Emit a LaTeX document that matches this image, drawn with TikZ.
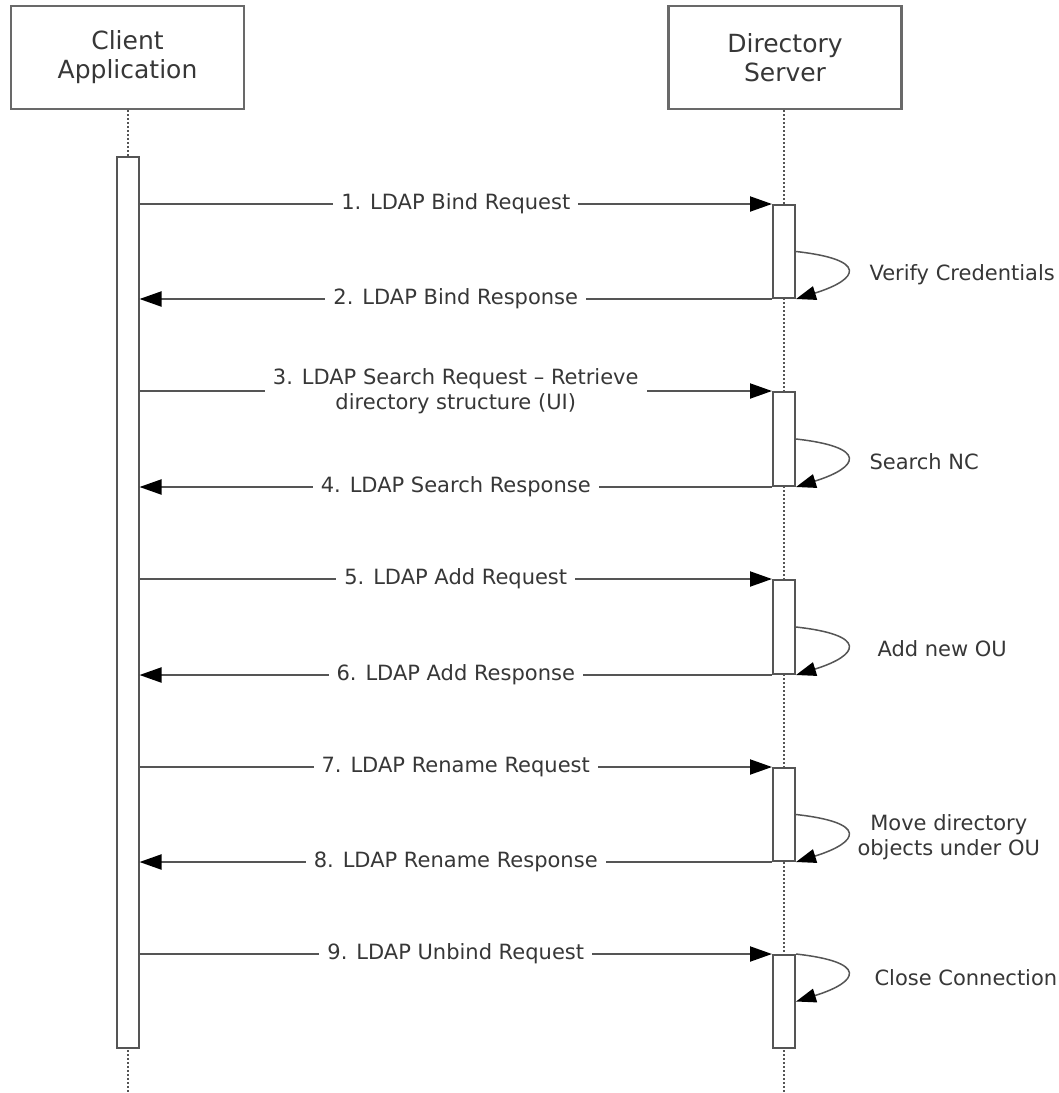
\documentclass[tikz,border=0pt]{standalone}
\usepackage{fontspec}
\setmainfont{DejaVu Sans}
\usetikzlibrary{arrows.meta, positioning, calc}
\definecolor{SeqLine}{RGB}{85, 85, 85}
\definecolor{SeqBorder}{RGB}{105, 105, 105}
\definecolor{SeqText}{RGB}{55, 55, 55}

\begin{document}
\begin{tikzpicture}[x=1pt,y=-1pt,
    lane/.style={draw=SeqBorder, line width=2.2pt, fill=white, minimum width=233pt,
                 minimum height=103pt, align=center, text=SeqText,
                 font=\fontsize{25}{29}\selectfont},
    act/.style={draw=SeqLine, line width=2pt, fill=white, minimum width=22pt, inner sep=0pt},
    life/.style={draw=SeqLine, line width=2pt, dash pattern=on 2pt off 2pt},
    msg/.style={draw=SeqLine, line width=2pt,
                -{Triangle[length=22pt, width=15pt, color=black]}},
    selfloop/.style={draw=SeqLine, line width=1.5pt,
                -{Triangle[length=20pt, width=14pt, color=black]}},
    msglabel/.style={fill=white, inner xsep=8pt, inner ysep=1pt, align=center,
                 text=SeqText, font=\fontsize{21}{24.5}\selectfont},
    note/.style={anchor=west, align=center, text=SeqText,
                 font=\fontsize{21}{24.5}\selectfont}]
  \useasboundingbox (0,0) rectangle (1059,1093);
  \fill[white] (0,0) rectangle (1059,1093);

  % participants
  \node[lane] (client) at (127.5,57.5) {Client\\Application};
  \node[lane] (server) at (785,57.5) {Directory\\Server};

  % lifelines (activation bars are drawn over them)
  \draw[life] (client.south) -- (client.south |- 0,1093);
  \draw[life] (server.south -| 784,0) -- (784,1093);

  % activation bars
  \node[act, minimum height=891pt] (ca) at (127.5,602.5) {};
  \node[act, minimum height=93pt] (s1) at (784,251.5) {};
  \node[act, minimum height=94pt] (s2) at (784,439) {};
  \node[act, minimum height=94pt] (s3) at (784,627) {};
  \node[act, minimum height=93pt] (s4) at (784,814.5) {};
  \node[act, minimum height=93pt] (s5) at (784,1001.5) {};

  % bind
  \draw[msg] (ca.east |- s1.north) -- node[msglabel] {1. LDAP Bind Request} (s1.north west);
  \draw[msg] (s1.south west) -- node[msglabel] {2. LDAP Bind Response} (ca.east |- s1.south);
  \draw[selfloop] (s1.east) .. controls +(72,8) and +(64,-20) .. (s1.south east);
  \node[note] (n1) at (866,275) {Verify Credentials};

  % search
  \draw[msg] (ca.east |- s2.north) -- node[msglabel]
    {3. LDAP Search Request -- Retrieve\\directory structure (UI)} (s2.north west);
  \draw[msg] (s2.south west) -- node[msglabel] {4. LDAP Search Response} (ca.east |- s2.south);
  \draw[selfloop] (s2.east) .. controls +(72,8) and +(64,-20) .. (s2.south east);
  \node[note] (n2) at (866,462) {Search NC};

  % add
  \draw[msg] (ca.east |- s3.north) -- node[msglabel] {5. LDAP Add Request} (s3.north west);
  \draw[msg] (s3.south west) -- node[msglabel] {6. LDAP Add Response} (ca.east |- s3.south);
  \draw[selfloop] (s3.east) .. controls +(72,8) and +(64,-20) .. (s3.south east);
  \node[note] (n3) at (874,649) {Add new OU};

  % rename
  \draw[msg] (ca.east |- s4.north) -- node[msglabel] {7. LDAP Rename Request} (s4.north west);
  \draw[msg] (s4.south west) -- node[msglabel] {8. LDAP Rename Response} (ca.east |- s4.south);
  \draw[selfloop] (s4.east) .. controls +(72,8) and +(64,-20) .. (s4.south east);
  \node[note] (n4) at (854,837) {Move directory\\objects under OU};

  % unbind
  \draw[msg] (ca.east |- s5.north) -- node[msglabel] {9. LDAP Unbind Request} (s5.north west);
  \draw[selfloop] (s5.north east) .. controls +(72,8) and +(64,-20) .. (s5.east);
  \node[note] (n5) at (871,978) {Close Connection};
\end{tikzpicture}
\end{document}
